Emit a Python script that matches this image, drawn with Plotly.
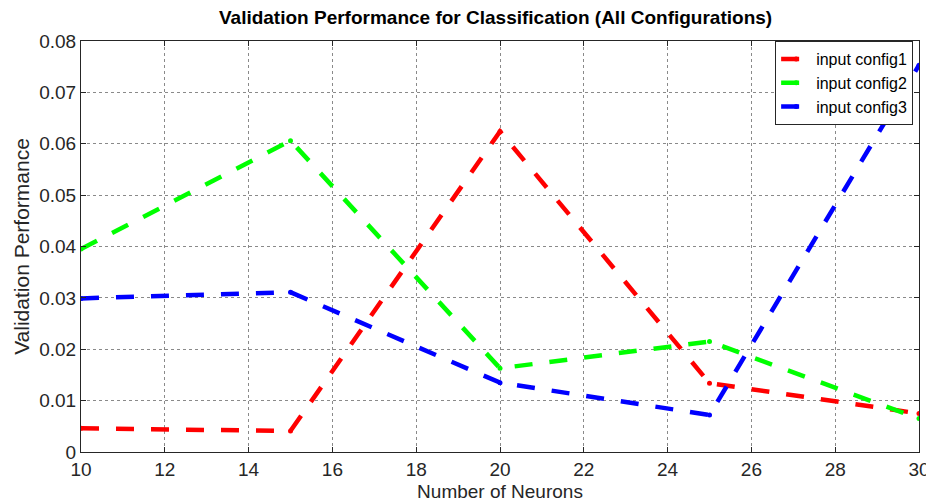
import plotly.graph_objects as go

neurons = [10, 15, 20, 25, 30]
config1 = [0.0046, 0.0041, 0.0624, 0.0134, 0.0075]
config2 = [0.0395, 0.0606, 0.0163, 0.0215, 0.0065]
config3 = [0.0299, 0.0311, 0.0135, 0.0072, 0.0753]
series_names = ["input config1", "input config2", "input config3"]
series_colors = ["#ff0000", "#00ff00", "#0000ff"]
x_ticks = [10, 12, 14, 16, 18, 20, 22, 24, 26, 28, 30]
y_ticks = [0, 0.01, 0.02, 0.03, 0.04, 0.05, 0.06, 0.07, 0.08]
y_tick_labels = ["0", "0.01", "0.02", "0.03", "0.04", "0.05", "0.06", "0.07", "0.08"]

FONT = "Liberation Sans, Arial"

fig = go.Figure()
for name, vals, col in zip(series_names, [config1, config2, config3], series_colors):
    fig.add_trace(go.Scatter(
        x=neurons, y=vals, name=name, mode="lines+markers",
        line=dict(color=col, width=4.5, dash="18px,17px"),
        marker=dict(color=col, size=5),
    ))

axis_common = dict(
    showline=True, linecolor="#262626", linewidth=1, mirror="allticks",
    ticks="inside", ticklen=5, tickcolor="#262626",
    showgrid=True, gridcolor="#8a8a8a", griddash="dot", gridwidth=1,
    zeroline=False,
    tickfont=dict(family=FONT, size=19, color="#262626"),
)

fig.update_layout(
    width=934, height=502,
    margin=dict(l=73, r=12, t=33, b=54),
    plot_bgcolor="white", paper_bgcolor="white",
    title=dict(text="<b>Validation Performance for Classification (All Configurations)</b>",
               x=0.522, xanchor="center", y=0.982, yanchor="middle",
               font=dict(family=FONT, size=19, color="black")),
    xaxis=dict(range=[10, 30], tickvals=x_ticks,
               title=dict(text="Number of Neurons", standoff=5,
                          font=dict(family=FONT, size=19, color="#262626")),
               **axis_common),
    yaxis=dict(range=[0, 0.08], tickvals=y_ticks, ticktext=y_tick_labels,
               title=dict(text="Validation Performance", standoff=3,
                          font=dict(family=FONT, size=21, color="#262626")),
               **axis_common),
    legend=dict(x=0.993, y=1.0, xanchor="right", yanchor="top",
                bgcolor="white", bordercolor="#262626", borderwidth=1,
                font=dict(family=FONT, size=16, color="black"),
                tracegroupgap=0, itemwidth=30),
    showlegend=True,
)

fig.write_html("out.html")
